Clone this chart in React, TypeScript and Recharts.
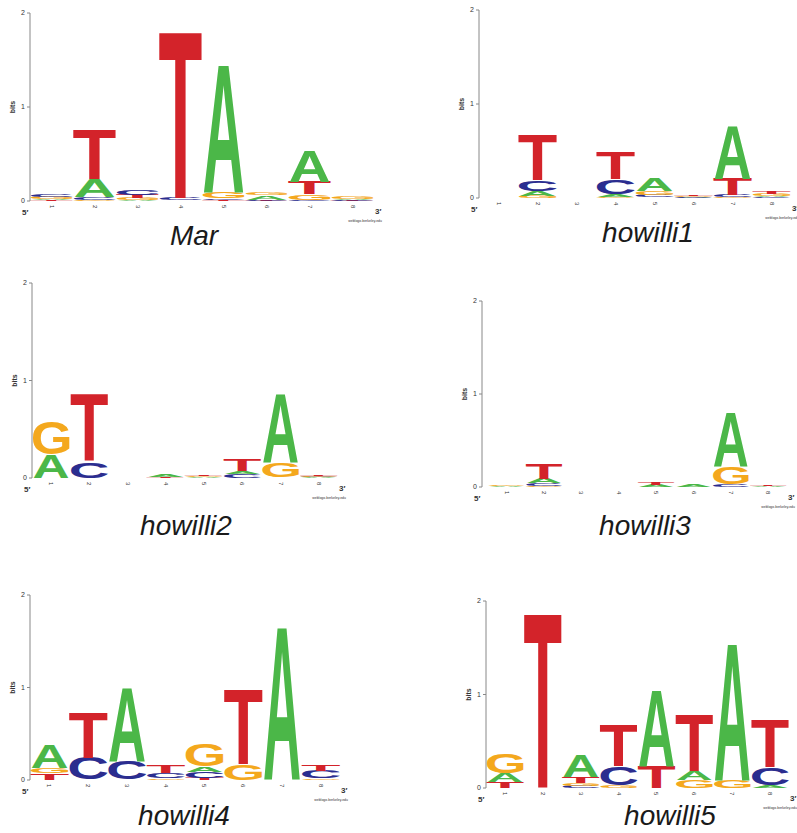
import { BarChart, Bar, XAxis, YAxis } from "recharts";

// each position is a stack of [letter, bits], bottom to top
type Stack = [string, number][];

const POSITIONS = ["1", "2", "3", "4", "5", "6", "7", "8"];
const Y_TICKS = [0, 1, 2];

const MAR: Stack[] = [
  [["T", 0.01], ["A", 0.01], ["G", 0.02], ["C", 0.03]],
  [["G", 0.01], ["C", 0.03], ["A", 0.19], ["T", 0.52]],
  [["A", 0.01], ["G", 0.02], ["T", 0.035], ["C", 0.05]],
  [["G", 0.005], ["C", 0.025], ["T", 1.75]],
  [["T", 0.01], ["C", 0.015], ["G", 0.075], ["A", 1.35]],
  [["T", 0.005], ["C", 0.01], ["A", 0.045], ["G", 0.03]],
  [["C", 0.01], ["G", 0.06], ["T", 0.13], ["A", 0.32]],
  [["T", 0.005], ["C", 0.01], ["A", 0.01], ["G", 0.025]],
];

const HOWILLI1: Stack[] = [
  [],
  [["G", 0.02], ["A", 0.05], ["C", 0.12], ["T", 0.48]],
  [],
  [["G", 0.01], ["A", 0.03], ["C", 0.16], ["T", 0.29]],
  [["T", 0.005], ["C", 0.025], ["G", 0.04], ["A", 0.13]],
  [["A", 0.005], ["C", 0.01], ["G", 0.01], ["T", 0.015]],
  [["G", 0.01], ["C", 0.02], ["T", 0.17], ["A", 0.56]],
  [["C", 0.01], ["A", 0.01], ["G", 0.02], ["T", 0.02]],
];

const HOWILLI2: Stack[] = [
  [["A", 0.24], ["G", 0.35]],
  [["C", 0.17], ["T", 0.68]],
  [],
  [["C", 0.005], ["T", 0.005], ["A", 0.03]],
  [["C", 0.005], ["A", 0.01], ["G", 0.01], ["T", 0.005]],
  [["C", 0.04], ["A", 0.03], ["T", 0.12]],
  [["C", 0.005], ["G", 0.155], ["A", 0.69]],
  [["A", 0.005], ["C", 0.01], ["G", 0.01], ["T", 0.01]],
];

const HOWILLI3: Stack[] = [
  [["A", 0.01], ["G", 0.01]],
  [["G", 0.01], ["C", 0.03], ["A", 0.05], ["T", 0.17]],
  [],
  [],
  [["C", 0.005], ["A", 0.02], ["T", 0.02]],
  [["C", 0.005], ["A", 0.02]],
  [["C", 0.03], ["G", 0.19], ["A", 0.58]],
  [["A", 0.005], ["C", 0.005], ["T", 0.01]],
];

const HOWILLI4: Stack[] = [
  [["T", 0.07], ["G", 0.06], ["A", 0.25]],
  [["C", 0.24], ["T", 0.48]],
  [["C", 0.2], ["A", 0.78]],
  [["G", 0.02], ["C", 0.06], ["T", 0.08]],
  [["T", 0.02], ["C", 0.07], ["A", 0.05], ["G", 0.24]],
  [["G", 0.17], ["T", 0.8]],
  [["A", 1.63]],
  [["G", 0.02], ["C", 0.08], ["T", 0.07]],
];

const HOWILLI5: Stack[] = [
  [["T", 0.06], ["A", 0.1], ["G", 0.21]],
  [["T", 1.85]],
  [["C", 0.02], ["G", 0.03], ["T", 0.065], ["A", 0.235]],
  [["G", 0.03], ["C", 0.2], ["T", 0.43]],
  [["T", 0.23], ["A", 0.81]],
  [["G", 0.09], ["A", 0.09], ["T", 0.6]],
  [["G", 0.08], ["A", 1.45]],
  [["A", 0.03], ["C", 0.19], ["T", 0.51]],
];

const COLORS: Record<string, string> = {
  A: "#4bb748",
  C: "#2b2d8f",
  G: "#f4a81d",
  T: "#d3232a",
};

// glyph box in font units (xMin, xMax, yMin, yMax), Liberation Sans Bold
const GLYPH_BOX: Record<string, number[]> = {
  A: [10, 712, 0, 688],
  C: [44, 684, -20, 708],
  G: [44, 713, -20, 708],
  T: [20, 592, 0, 688],
};

const FONT = "'Liberation Sans', Arial, sans-serif";
const SLOTS = [0, 1, 2, 3];

const PANELS = [
  { name: "Mar", stacks: MAR, plotLeft: 30, plotTop: 13, plotW: 344, plotH: 188, padLeft: 0, titleX: 194, titleY: 245 },
  { name: "howilli1", stacks: HOWILLI1, plotLeft: 479, plotTop: 10, plotW: 312, plotH: 188, padLeft: 0, titleX: 648, titleY: 242 },
  { name: "howilli2", stacks: HOWILLI2, plotLeft: 32, plotTop: 283, plotW: 306, plotH: 195, padLeft: 0, titleX: 186, titleY: 535 },
  { name: "howilli3", stacks: HOWILLI3, plotLeft: 482, plotTop: 301, plotW: 305, plotH: 186, padLeft: 6, titleX: 645, titleY: 535 },
  { name: "howilli4", stacks: HOWILLI4, plotLeft: 30, plotTop: 595, plotW: 310, plotH: 185, padLeft: 0, titleX: 184, titleY: 825 },
  { name: "howilli5", stacks: HOWILLI5, plotLeft: 486, plotTop: 601, plotW: 303, plotH: 187, padLeft: 0, titleX: 670, titleY: 825 },
];

function buildRows(stacks: Stack[]) {
  return POSITIONS.map((pos, i) => {
    const row: Record<string, string | number> = { pos };
    SLOTS.forEach((k) => {
      const cell = stacks[i][k];
      row[`l${k}`] = cell ? cell[0] : "";
      row[`s${k}`] = cell ? cell[1] : 0;
    });
    return row;
  });
}

// stretch a letter to fill the bar rectangle
function Letter(props: any) {
  const { x, y, width, height, letter } = props;
  if (!letter || !(height > 0)) return null;
  const [x0, x1, y0, y1] = GLYPH_BOX[letter];
  const kx = width / (x1 - x0);
  const ky = height / (y1 - y0);
  return (
    <text
      transform={`translate(${x - x0 * kx},${y + height + y0 * ky}) scale(${kx},${ky})`}
      fontFamily={FONT}
      fontWeight={700}
      fontSize={1000}
      fill={COLORS[letter]}
    >
      {letter}
    </text>
  );
}

function PosTick(props: any) {
  const { x, y, payload } = props;
  return (
    <text
      transform={`translate(${x},${y + 2}) rotate(90)`}
      fontSize={6}
      fontFamily={FONT}
      fill="#333"
      dominantBaseline="central"
    >
      {payload.value}
    </text>
  );
}

function LogoPanel({ panel }: { panel: (typeof PANELS)[number] }) {
  const rows = buildRows(panel.stacks);
  return (
    <div style={{ position: "absolute", left: panel.plotLeft - 30, top: panel.plotTop - 10 }}>
      <BarChart
        width={30 + panel.plotW + 15}
        height={10 + panel.plotH + 20}
        data={rows}
        margin={{ top: 10, right: 15, left: 0, bottom: 0 }}
        barCategoryGap={1}
        barGap={0}
      >
        <XAxis
          dataKey="pos"
          axisLine={false}
          tickLine={false}
          tickSize={0}
          height={20}
          interval={0}
          tick={<PosTick />}
          padding={{ left: panel.padLeft, right: 0 }}
        />
        <YAxis
          domain={[0, 2]}
          ticks={Y_TICKS}
          width={30}
          tickSize={3}
          tickMargin={2}
          allowDataOverflow
          axisLine={{ stroke: "#888" }}
          tickLine={{ stroke: "#888" }}
          tick={{ fontSize: 7, fill: "#333", fontFamily: FONT }}
        />
        {SLOTS.map((k) => (
          <Bar
            key={k}
            dataKey={`s${k}`}
            stackId="logo"
            isAnimationActive={false}
            shape={(p: any) => <Letter {...p} letter={p.payload?.[`l${k}`]} />}
          />
        ))}
      </BarChart>
    </div>
  );
}

export default function App() {
  return (
    <div
      style={{
        position: "absolute",
        left: 0,
        top: 0,
        width: 797,
        height: 833,
        overflow: "hidden",
        background: "#fff",
      }}
    >
      {PANELS.map((p) => (
        <LogoPanel key={p.name} panel={p} />
      ))}
      <svg
        width={797}
        height={833}
        style={{ position: "absolute", left: 0, top: 0, pointerEvents: "none" }}
      >
        {PANELS.map((p) => {
          const y0 = p.plotTop + p.plotH;
          const y1 = p.plotTop + p.plotH / 2;
          const right = p.plotLeft + p.plotW;
          return (
            <g key={p.name} fontFamily={FONT}>
              <text
                transform={`translate(${p.plotLeft - 15},${y1}) rotate(-90)`}
                fontSize={7}
                fontWeight={700}
                fill="#333"
                textAnchor="middle"
              >
                bits
              </text>
              <text x={p.plotLeft - 8} y={y0 + 14} fontSize={8} fontWeight={700} fill="#333">
                5′
              </text>
              <text x={right + 1} y={y0 + 13} fontSize={8} fontWeight={700} fill="#333">
                3′
              </text>
              <text x={right + 8} y={y0 + 21} fontSize={3.5} fill="#333" textAnchor="end">
                weblogo.berkeley.edu
              </text>
              <text
                x={p.titleX}
                y={p.titleY}
                fontSize={28}
                fontStyle="italic"
                fill="#1a1a1a"
                textAnchor="middle"
              >
                {p.name}
              </text>
            </g>
          );
        })}
      </svg>
    </div>
  );
}
